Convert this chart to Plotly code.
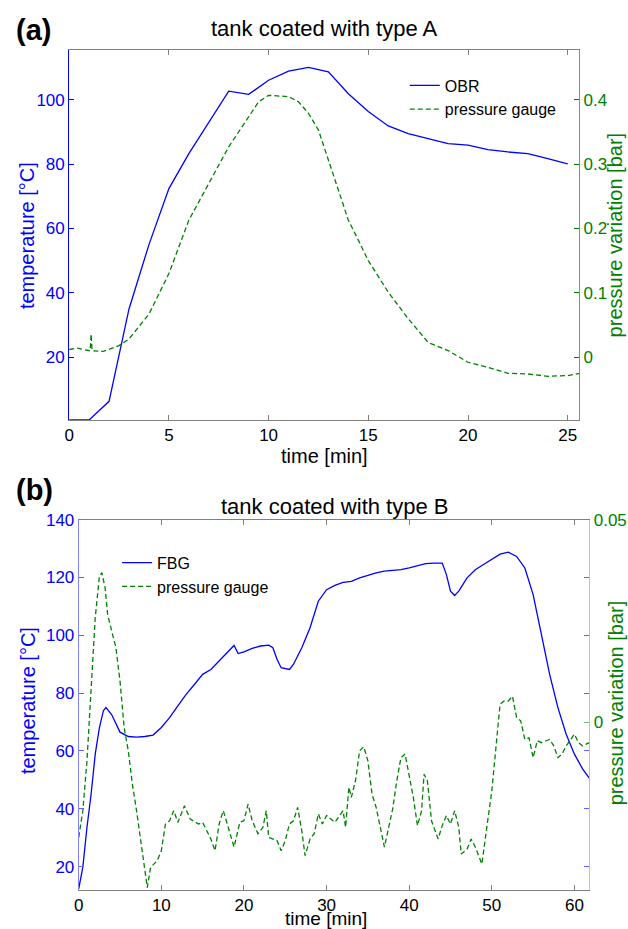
import plotly.graph_objects as go

# ---------------- Panel (a): tank coated with type A ----------------
t_obr = [0, 1, 2, 3, 4, 5, 6, 7, 8, 9, 10, 11, 12, 13, 14, 15, 16, 17, 18, 19, 20, 21, 22, 23, 24, 25]
temp_obr = [0.5, 0.5, 6.3, 35, 55, 72.4, 83.3, 93.1, 102.7, 101.7, 106.1, 108.9, 110.1, 108.7, 101.9,
            96.4, 91.9, 89.5, 87.9, 86.4, 85.9, 84.5, 83.8, 83.3, 81.7, 80.1]

t_pa = [0, 0.4, 1.05, 1.1, 1.15, 1.7, 2.5, 3, 4, 5, 6, 7, 8, 8.6, 9, 9.5, 10, 10.5, 11, 11.5, 12, 12.5,
        13, 13.5, 14, 14.5, 15, 16, 17, 18, 19, 20, 21, 22, 23, 24, 25, 25.6]
p_a = [0.012, 0.014, 0.010, 0.036, 0.010, 0.009, 0.018, 0.0285, 0.067, 0.13, 0.213, 0.27, 0.327, 0.355,
       0.373, 0.397, 0.407, 0.406, 0.405, 0.397, 0.379, 0.353, 0.306, 0.259, 0.213, 0.182, 0.150, 0.101,
       0.060, 0.023, 0.0104, -0.0078, -0.0156, -0.025, -0.026, -0.0296, -0.0285, -0.025]

# ---------------- Panel (b): tank coated with type B ----------------
t_fbg = [0, 0.5, 1, 1.5, 2, 2.5, 3, 3.3, 4, 5, 6, 7, 8, 9, 10, 11, 12, 13, 14, 15, 16, 17, 18, 18.8,
         19.3, 20, 21, 22, 23, 23.5, 24, 24.5, 25.5, 26, 27, 28, 29, 30, 31, 32, 33, 34, 35, 36, 37, 38,
         39, 40, 41, 42, 43, 44, 44.5, 45, 45.5, 46, 47, 48, 49, 50, 51, 52, 53, 54, 55, 56, 57, 58, 59,
         60, 61, 61.8]
temp_fbg = [12.3, 19.8, 33.6, 45, 58.9, 68, 74, 75, 72.5, 66.5, 65, 64.8, 65, 65.5, 68.1, 71.5, 75.6,
            79.6, 83, 86.5, 88.2, 91.1, 94, 96.5, 93.7, 94.3, 95.5, 96.3, 96.6, 95.7, 91.7, 88.8, 88.2, 90,
            95.7, 102.6, 111.8, 115.8, 117.3, 118.3, 118.7, 119.9, 120.7, 121.6, 122.2, 122.5, 122.7, 123.3,
            124.1, 124.8, 125, 125, 121, 115.3, 113.8, 115.3, 119.9, 122.7, 124.5, 126.4, 128.1, 128.8, 127.3,
            123.3, 114.1, 100.3, 86.5, 75, 65.8, 58.9, 53.7, 50.6]

t_pb = [0, 0.5, 1, 1.5, 2, 2.5, 2.8, 3.2, 3.5, 4, 4.5, 5, 5.5, 6, 6.5, 7, 7.5, 8, 8.3, 8.7, 9.5, 10, 10.5,
        11, 11.5, 12, 12.8, 13.5, 14.5, 15, 16, 16.5, 17, 17.5, 18, 18.8, 19.5, 20, 20.5, 21, 21.7, 22.3,
        22.7, 23, 24, 24.5, 25, 25.5, 26, 26.5, 27, 27.4, 28, 28.5, 29, 29.5, 30, 31, 32, 32.3, 32.7, 33,
        33.5, 34, 34.5, 35, 35.5, 36, 37, 37.5, 38, 38.5, 39, 39.5, 40, 40.5, 41, 41.5, 41.8, 42.2, 42.7,
        43.5, 44, 44.5, 45, 45.5, 46, 46.3, 47, 47.5, 48, 48.8, 49.5, 50, 50.5, 51, 51.5, 52, 52.5, 53,
        53.5, 54, 54.5, 55, 55.5, 56, 57, 57.5, 58, 58.5, 59, 60, 60.5, 61, 61.8]
p_b = [-0.0285, -0.0219, -0.0096, 0.0069, 0.0257, 0.0360, 0.0369, 0.0331, 0.0266, 0.0224,
       0.0184, 0.0101, -0.0014, -0.0071, -0.0154, -0.0219, -0.0293, -0.0359, -0.0409, -0.0359,
       -0.0343, -0.0318, -0.0252, -0.0244, -0.0219, -0.0248, -0.0207, -0.0240, -0.0252, -0.0248,
       -0.0289, -0.0318, -0.0252, -0.0219, -0.0252, -0.0309, -0.0248, -0.0244, -0.0203, -0.0244,
       -0.0276, -0.0260, -0.0219, -0.0285, -0.0293, -0.0318, -0.0293, -0.0252, -0.0244, -0.0211,
       -0.0269, -0.0330, -0.0289, -0.0276, -0.0227, -0.0252, -0.0231, -0.0248, -0.0219, -0.0260,
       -0.0161, -0.0186, -0.0145, -0.0071, -0.0061, -0.0096, -0.0178, -0.0211, -0.0309, -0.0260,
       -0.0215, -0.0145, -0.0088, -0.0079, -0.0129, -0.0186, -0.0256, -0.0219, -0.0129, -0.0145,
       -0.0244, -0.0289, -0.0256, -0.0231, -0.0252, -0.0219, -0.0260, -0.0326, -0.0314, -0.0289,
       -0.0309, -0.0351, -0.0244, -0.0170, -0.0063, 0.0044, 0.0052, 0.0052, 0.0064, 0.0011,
       0.0003, -0.0043, -0.0039, -0.0088, -0.0046, -0.0051, -0.0043, -0.0059, -0.0088, -0.0079,
       -0.0059, -0.0030, -0.0051, -0.0059, -0.0051]

xticks_a = [0, 5, 10, 15, 20, 25]
yticks_a = [20, 40, 60, 80, 100]
y2ticks_a = [0, 0.1, 0.2, 0.3, 0.4]
xticks_b = [0, 10, 20, 30, 40, 50, 60]
yticks_b = [20, 40, 60, 80, 100, 120, 140]
y2ticks_b = [0, 0.05]
y2labels_b = ["0", "0.05"]

BLUE = "#0000ff"
GREEN = "#008000"
FONT = "Liberation Sans, Arial, sans-serif"
W, H = 628, 929
TICK = 17
LAB = 20
TIT = 22

fig = go.Figure()
fig.add_trace(go.Scatter(x=t_obr, y=temp_obr, mode="lines", name="OBR",
                         line=dict(color=BLUE, width=1.3), xaxis="x", yaxis="y", legend="legend"))
fig.add_trace(go.Scatter(x=t_pa, y=p_a, mode="lines", name="pressure gauge",
                         line=dict(color=GREEN, width=1.3, dash="5px,3px"), xaxis="x", yaxis="y2",
                         legend="legend"))
fig.add_trace(go.Scatter(x=t_fbg, y=temp_fbg, mode="lines", name="FBG",
                         line=dict(color=BLUE, width=1.3), xaxis="x2", yaxis="y3", legend="legend2"))
fig.add_trace(go.Scatter(x=t_pb, y=p_b, mode="lines", name="pressure gauge",
                         line=dict(color=GREEN, width=1.3, dash="5px,3px"), xaxis="x2", yaxis="y4",
                         legend="legend2"))


def px_x(v):
    return v / W


def px_y(v):
    return 1 - v / H


common_x = dict(showgrid=False, zeroline=False, showline=True, linecolor="#808080", linewidth=1,
                mirror="ticks", ticks="inside", ticklen=5, tickcolor="#808080",
                tickfont=dict(family=FONT, size=TICK, color="black"))

fig.update_layout(
    width=W, height=H, margin=dict(l=0, r=0, t=0, b=0),
    paper_bgcolor="white", plot_bgcolor="white",
    font=dict(family=FONT, size=TICK, color="black"),
    xaxis=dict(domain=[px_x(64.7), px_x(578.7)], anchor="y", range=[0, 25.57],
               tickvals=xticks_a, **common_x),
    yaxis=dict(domain=[px_y(415), px_y(41.7)], anchor="x", range=[0.5, 115.4],
               tickvals=yticks_a, showgrid=False, zeroline=False, showline=True, linecolor=BLUE,
               mirror="ticks", ticks="inside", ticklen=5, tickcolor=BLUE,
               tickfont=dict(family=FONT, size=TICK, color=BLUE)),
    yaxis2=dict(overlaying="y", side="right", anchor="x", range=[-0.0975, 0.477],
                tickvals=y2ticks_a, showgrid=False, zeroline=False, showline=True, linecolor="#4cb84c",
                ticks="inside", ticklen=5, tickcolor=GREEN,
                tickfont=dict(family=FONT, size=TICK, color=GREEN)),
    xaxis2=dict(domain=[px_x(74.3), px_x(589)], anchor="y3", range=[0, 61.8],
                tickvals=xticks_b, **common_x),
    yaxis3=dict(domain=[px_y(889.3), px_y(515.7)], anchor="x2", range=[12, 140],
                tickvals=yticks_b, showgrid=False, zeroline=False, showline=True, linecolor="#8080ff",
                mirror="ticks", ticks="inside", ticklen=5, tickcolor="#6060ff",
                tickfont=dict(family=FONT, size=TICK, color=BLUE)),
    yaxis4=dict(overlaying="y3", side="right", anchor="x2", range=[-0.04143, 0.05],
                tickvals=y2ticks_b, ticktext=y2labels_b, showgrid=False, zeroline=False, showline=True,
                linecolor="#a0d8a0", ticks="inside", ticklen=5, tickcolor="#70c070",
                tickfont=dict(family=FONT, size=TICK, color=GREEN)),
    legend=dict(x=px_x(403), y=px_y(60), xanchor="left", yanchor="top", bgcolor="rgba(0,0,0,0)",
                font=dict(family=FONT, size=16, color="black"), tracegroupgap=0),
    legend2=dict(x=px_x(113), y=px_y(542), xanchor="left", yanchor="top", bgcolor="rgba(0,0,0,0)",
                 font=dict(family=FONT, size=16, color="black"), tracegroupgap=0),
    showlegend=True,
)

ann = [
    dict(text="<b>(a)</b>", x=px_x(9), y=px_y(21), xanchor="left", yanchor="middle",
         font=dict(family=FONT, size=29, color="black")),
    dict(text="tank coated with type A", x=px_x(321.7), y=px_y(20), xanchor="center", yanchor="middle",
         font=dict(family=FONT, size=TIT, color="black")),
    dict(text="time [min]", x=px_x(321.7), y=px_y(451), xanchor="center", yanchor="middle",
         font=dict(family=FONT, size=LAB, color="black")),
    dict(text="temperature [°C]", x=px_x(21.5), y=px_y(229), xanchor="center", yanchor="middle",
         textangle=-90, font=dict(family=FONT, size=LAB, color=BLUE)),
    dict(text="pressure variation [bar]", x=px_x(614.5), y=px_y(228), xanchor="center", yanchor="middle",
         textangle=-90, font=dict(family=FONT, size=LAB, color=GREEN)),
    dict(text="<b>(b)</b>", x=px_x(9), y=px_y(486), xanchor="left", yanchor="middle",
         font=dict(family=FONT, size=29, color="black")),
    dict(text="tank coated with type B", x=px_x(331.7), y=px_y(502), xanchor="center", yanchor="middle",
         font=dict(family=FONT, size=TIT, color="black")),
    dict(text="time [min]", x=px_x(324), y=px_y(918), xanchor="center", yanchor="middle",
         font=dict(family=FONT, size=19, color="black")),
    dict(text="temperature [°C]", x=px_x(23), y=px_y(698), xanchor="center", yanchor="middle",
         textangle=-90, font=dict(family=FONT, size=LAB, color=BLUE)),
    dict(text="pressure variation [bar]", x=px_x(616), y=px_y(701), xanchor="center", yanchor="middle",
         textangle=-90, font=dict(family=FONT, size=LAB, color=GREEN)),
]
for a in ann:
    a.update(xref="paper", yref="paper", showarrow=False)
fig.update_layout(annotations=ann)

fig.write_html("out.html", config={"displayModeBar": False},
               post_script="document.body.style.margin='0';document.body.style.padding='0';")
